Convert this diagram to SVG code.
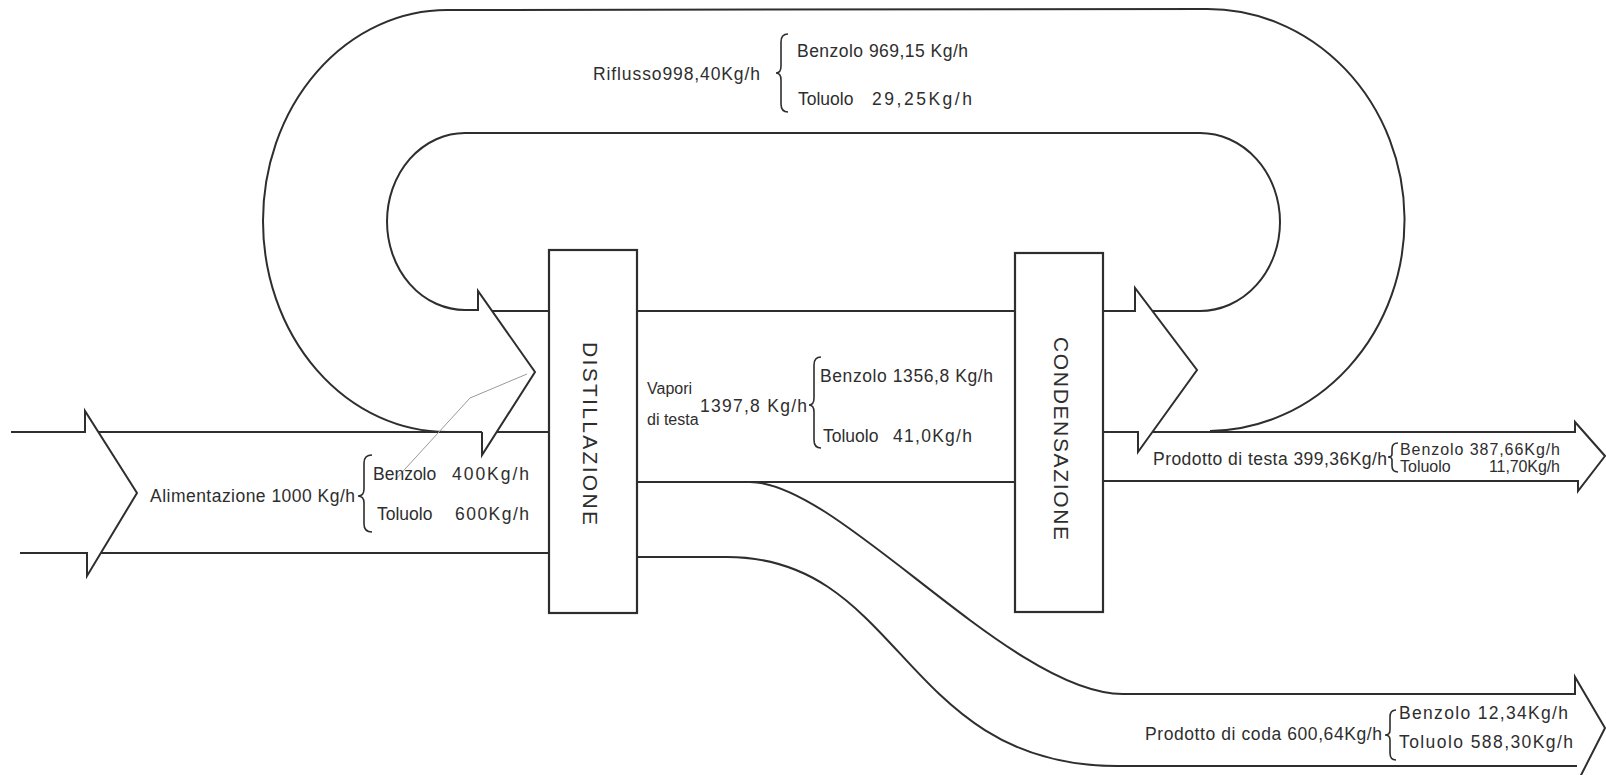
<svg xmlns="http://www.w3.org/2000/svg" width="1606" height="775" viewBox="0 0 1606 775">
<style>
.ln{fill:none;stroke:#2e2e2e;stroke-width:2;stroke-linejoin:miter}
.br{fill:none;stroke:#2e2e2e;stroke-width:1.6}
.bx{fill:#fff;stroke:#2e2e2e;stroke-width:2.2}
.t{font-family:"Liberation Sans",Arial,sans-serif;font-size:17.5px;fill:#2e2e2e}
.s{font-size:16px}
.v{font-family:"Liberation Sans",Arial,sans-serif;font-size:21px;fill:#2e2e2e}
</style>
<rect width="1606" height="775" fill="#fff"/>
<g id="connectors">
  <!-- feed stream -->
  <path class="ln" d="M11,432 H85 V411 L137,493 L87,576 V553 H20"/>
  <path class="ln" d="M98,432 H482 M497,432 H549"/>
  <path class="ln" d="M101,553 H550"/>
  <!-- reflux loop -->
  <path class="ln" d="M447,432 A184,211 0 0 1 447,10 L1205,9 A197,211 0 0 1 1210,431"/>
  <path class="ln" d="M1152,311 H1200 A80,89 0 0 0 1200,133 L465,133 A78,88.5 0 0 0 465,310 H478 V291 L535,372 L482,455 V432"/>
  <path class="ln" d="M492,311 H549"/>
  <!-- vapours -->
  <path class="ln" d="M637,311 H1015 M637,482 H1015"/>
  <!-- condensed: reflux head -->
  <path class="ln" d="M1102,311 H1135 V288 L1197,370 L1138,452 V432 H1102"/>
  <!-- head product -->
  <path class="ln" d="M1152,432 H1575 V422 L1605,456 L1578,491 V481 H1102"/>
  <!-- bottom product -->
  <path class="ln" d="M750,482 C839,482 1011,694 1123,694 H1575 V677 L1605,728 L1577,783"/>
  <path class="ln" d="M637,557 H727 C903,557 902,766 1117,766 H1577"/>
  <!-- pencil mark -->
  <path d="M527,374 L470,398 L395,480" fill="none" stroke="#9a9a9a" stroke-width="1"/>
</g>
<g id="distillazione">
  <rect class="bx" x="549" y="250" width="88" height="363"/>
  <text class="v" transform="translate(583,433.5) rotate(90)" text-anchor="middle" textLength="183" lengthAdjust="spacing">DISTILLAZIONE</text>
</g>
<g id="condensazione">
  <rect class="bx" x="1015" y="253" width="88" height="359"/>
  <text class="v" transform="translate(1054,438.5) rotate(90)" text-anchor="middle" textLength="203" lengthAdjust="spacing">CONDENSAZIONE</text>
</g>
<g id="label-riflusso">
  <text class="t" x="593" y="80" textLength="167" lengthAdjust="spacing">Riflusso998,40Kg/h</text>
  <path class="br" d="M788,34 Q781,34 781,42 L781,66 Q781,73 776,73 Q781,73 781,80 L781,104 Q781,112 788,112"/>
  <text class="t" x="797" y="57" textLength="171" lengthAdjust="spacing">Benzolo 969,15 Kg/h</text>
  <text class="t" x="798" y="105">Toluolo</text>
  <text class="t" x="872" y="105" textLength="100" lengthAdjust="spacing">29,25Kg/h</text>
</g>
<g id="label-vapori">
  <text class="t s" x="647" y="394">Vapori</text>
  <text class="t s" x="647" y="425">di testa</text>
  <text class="t" x="700" y="412" textLength="107" lengthAdjust="spacing">1397,8 Kg/h</text>
  <path class="br" d="M821,357 Q814,357 814,365 L814,398 Q814,405 809,405 Q814,405 814,412 L814,440 Q814,448 821,448"/>
  <text class="t" x="820" y="382" textLength="173" lengthAdjust="spacing">Benzolo 1356,8 Kg/h</text>
  <text class="t" x="823" y="442">Toluolo</text>
  <text class="t" x="893" y="442" textLength="79" lengthAdjust="spacing">41,0Kg/h</text>
</g>
<g id="label-alimentazione">
  <text class="t" x="150" y="502" textLength="205" lengthAdjust="spacing">Alimentazione 1000 Kg/h</text>
  <path class="br" d="M372,455 Q364,455 364,463 L364,489 Q364,496 358,496 Q364,496 364,503 L364,524 Q364,532 372,532"/>
  <text class="t" x="373" y="480">Benzolo</text>
  <text class="t" x="452" y="480" textLength="77" lengthAdjust="spacing">400Kg/h</text>
  <text class="t" x="377" y="520">Toluolo</text>
  <text class="t" x="455" y="520" textLength="74" lengthAdjust="spacing">600Kg/h</text>
</g>
<g id="label-testa">
  <text class="t" x="1153" y="465" textLength="234" lengthAdjust="spacing">Prodotto di testa 399,36Kg/h</text>
  <path class="br" d="M1398,443 Q1392,443 1392,449 L1392,454 Q1392,457 1388,457 Q1392,457 1392,460 L1392,466 Q1392,472 1398,472"/>
  <text class="t s" x="1400" y="455" textLength="160" lengthAdjust="spacing">Benzolo 387,66Kg/h</text>
  <text class="t s" x="1400" y="472">Toluolo</text>
  <text class="t s" x="1489" y="472" textLength="71" lengthAdjust="spacing">11,70Kg/h</text>
</g>
<g id="label-coda">
  <text class="t" x="1145" y="740" textLength="237" lengthAdjust="spacing">Prodotto di coda 600,64Kg/h</text>
  <path class="br" d="M1396,710 Q1390,710 1390,717 L1390,730 Q1390,735 1385,735 Q1390,735 1390,740 L1390,753 Q1390,760 1396,760"/>
  <text class="t" x="1399" y="719" textLength="169" lengthAdjust="spacing">Benzolo 12,34Kg/h</text>
  <text class="t" x="1399" y="748" textLength="174" lengthAdjust="spacing">Toluolo 588,30Kg/h</text>
</g>
</svg>
